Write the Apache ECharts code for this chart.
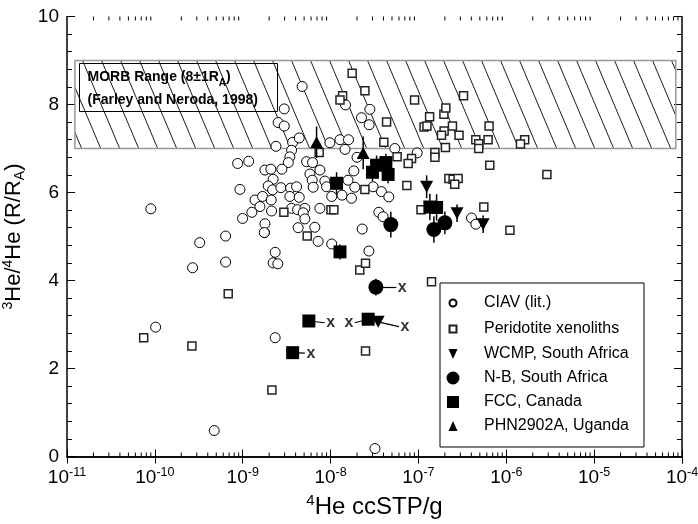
<!DOCTYPE html>
<html>
<head>
<meta charset="utf-8">
<title>3He/4He vs 4He</title>
<script src="https://cdn.jsdelivr.net/npm/echarts@6/dist/echarts.min.js"></script>
<style>
    html, body { margin: 0; padding: 0; background: #fff; }
    #chart { width: 698px; height: 524px; }
</style>
</head>
<body>
<div id="chart"></div>
<script>
// CIAV (lit.) : [4He ccSTP/g, 3He/4He (R/Ra)]
var ciav = [
    [9.0e-11, 5.63], [1.02e-10, 2.94], [2.69e-10, 4.29], [3.24e-10, 4.86], [6.39e-10, 5.01],
    [6.39e-10, 4.42], [4.74e-10, 0.59], [1.77e-9, 5.09], [2.34e-9, 4.64], [2.22e-9, 4.40],
    [2.51e-9, 4.38], [2.34e-9, 2.70], [7.22e-9, 4.89], [3.2e-8, 0.18], [2.97e-9, 7.90],
    [2.53e-9, 7.59], [2.97e-9, 7.51], [3.70e-9, 7.14], [2.39e-9, 7.05], [3.60e-9, 6.96],
    [3.44e-9, 6.81], [3.30e-9, 6.68], [8.75e-10, 6.66], [1.17e-9, 6.71], [1.79e-9, 6.51],
    [2.09e-9, 6.53], [2.79e-9, 6.53], [2.22e-9, 6.30], [9.3e-10, 6.07], [1.95e-9, 6.15],
    [2.19e-9, 6.06], [2.72e-9, 6.11], [3.51e-9, 6.10], [4.10e-9, 6.13], [1.38e-9, 5.83],
    [1.68e-9, 5.91], [2.11e-9, 5.83], [1.57e-9, 5.68], [1.27e-9, 5.55], [2.13e-9, 5.58],
    [3.44e-9, 5.91], [3.60e-9, 5.64], [4.21e-9, 5.61], [9.96e-10, 5.41], [1.79e-9, 5.29],
    [1.76e-9, 5.09], [4.28e-9, 5.20], [4.40e-9, 7.24], [9.82e-9, 7.13], [1.28e-8, 7.20],
    [1.60e-8, 7.20], [1.46e-8, 6.98], [5.33e-9, 6.70], [6.24e-9, 6.68], [5.82e-9, 6.42],
    [7.56e-9, 6.51], [6.18e-9, 6.28], [8.61e-9, 6.26], [6.34e-9, 6.12], [9.0e-9, 6.13],
    [1.58e-8, 6.28], [1.84e-8, 6.49], [1.89e-8, 6.12], [1.35e-8, 5.94], [1.03e-8, 5.91],
    [4.40e-9, 5.89], [5.10e-9, 5.64], [7.56e-9, 5.64], [4.88e-9, 5.54], [5.10e-9, 5.40],
    [6.62e-9, 5.21], [1.03e-8, 4.83], [4.75e-9, 8.41], [1.48e-8, 7.99], [2.80e-8, 7.89],
    [2.25e-8, 7.70], [2.75e-8, 7.54], [5.39e-8, 7.00], [9.67e-8, 6.90], [4.02e-7, 5.42],
    [4.50e-7, 5.28], [2.29e-8, 5.17], [3.54e-8, 5.55], [3.96e-8, 5.45], [2.73e-8, 4.67],
    [2.0e-8, 6.80], [3.05e-8, 6.13], [3.79e-8, 6.02], [4.6e-8, 5.90], [1.73e-8, 5.87]
];

// Peridotite xenoliths
var peridotite = [
    [7.46e-11, 2.70], [2.64e-10, 2.51], [6.84e-10, 3.70], [2.15e-9, 1.51], [5.42e-9, 5.01],
    [2.94e-9, 5.55], [7.42e-9, 6.91], [2.46e-8, 6.07], [1.01e-8, 5.61], [1.09e-8, 5.61],
    [2.15e-8, 4.24], [2.50e-8, 4.39], [1.41e-7, 3.97], [2.50e-8, 2.40], [1.76e-8, 8.71],
    [1.37e-8, 8.20], [1.28e-8, 8.10], [2.46e-8, 8.31], [4.34e-8, 7.60], [9.04e-8, 8.10],
    [3.26e-7, 8.20], [1.34e-7, 7.72], [1.95e-7, 7.78], [2.05e-7, 7.92], [1.16e-7, 7.49],
    [1.25e-7, 7.51], [1.96e-7, 7.40], [1.83e-7, 7.30], [2.44e-7, 7.51], [2.90e-7, 7.30],
    [6.37e-7, 7.51], [6.21e-7, 7.20], [4.50e-7, 7.20], [4.86e-7, 7.11], [4.86e-7, 7.00],
    [1.62e-6, 7.20], [1.45e-6, 7.10], [4.04e-8, 7.14], [5.72e-8, 6.81], [8.35e-8, 6.77],
    [7.64e-8, 6.66], [1.54e-7, 6.91], [1.54e-7, 6.80], [2.03e-7, 7.02], [6.49e-7, 6.62],
    [2.22e-7, 6.32], [2.48e-7, 6.30], [2.83e-7, 6.32], [2.59e-7, 6.19], [7.38e-8, 6.16],
    [5.55e-7, 5.67], [1.10e-6, 5.14], [1.07e-7, 5.61], [2.90e-6, 6.41]
];

// this study: [4He, R/Ra, error]
var wcmp = [[1.24e-7, 6.13, 0.26], [2.75e-7, 5.53, 0.2], [5.45e-7, 5.28, 0.2], [3.48e-8, 3.06, 0]];
var nb = [[4.85e-8, 5.27, 0.29], [1.50e-7, 5.16, 0.3], [2.0e-7, 5.31, 0.26], [3.28e-8, 3.85, 0.19]];
var fcc = [
    [1.17e-8, 6.21, 0.25], [3.34e-8, 6.62, 0.22], [4.26e-8, 6.68, 0.2], [3.0e-8, 6.46, 0.2],
    [4.52e-8, 6.41, 0.2], [1.35e-7, 5.67, 0.3], [1.61e-7, 5.66, 0.3], [1.28e-8, 4.65, 0.17],
    [5.66e-9, 3.08, 0], [3.70e-9, 2.36, 0], [2.68e-8, 3.12, 0]
];
var phn = [[6.93e-9, 7.14, 0.36], [2.35e-8, 6.90, 0.37]];

// "x" connectors: [fromX, fromY, toX, toY]
var linksRight = [
    [3.28e-8, 3.85, 5.6e-8, 3.85], [5.66e-9, 3.08, 8.6e-9, 3.04],
    [3.70e-9, 2.36, 5.1e-9, 2.35], [3.48e-8, 3.06, 6.0e-8, 2.95]
];
var linksLeft = [[2.68e-8, 3.12, 1.89e-8, 3.04]];

// MORB range band
var morbX = [1.23e-11, 8.5e-5];
var morbY = [7, 9];

var xMin = 1e-11, xMax = 1e-4, yMin = 0, yMax = 10;
var decades = [-11, -10, -9, -8, -7, -6, -5];
var minorSteps = [2, 3, 4, 5, 6, 7, 8, 9];

var minorTicks = [];
decades.forEach(function (d) {
    minorSteps.forEach(function (m) {
        minorTicks.push([m * Math.pow(10, d), yMin]);
    });
});

var font = 'Liberation Sans, Arial, Helvetica, sans-serif';

function hatch() {
    var c = document.createElement('canvas');
    c.width = 19;
    c.height = 45;
    var ctx = c.getContext('2d');
    ctx.strokeStyle = '#000';
    ctx.lineWidth = 0.9;
    [-19, 0, 19].forEach(function (o) {
        ctx.beginPath();
        ctx.moveTo(o, 0);
        ctx.lineTo(o + 19, 45);
        ctx.stroke();
    });
    return c;
}

function errorBars(rows) {
    return {
        type: 'custom',
        silent: true,
        z: 3,
        data: rows.filter(function (r) { return r[2] > 0; })
            .map(function (r) { return [r[0], r[1] - r[2], r[1] + r[2]]; }),
        renderItem: function (params, api) {
            var lo = api.coord([api.value(0), api.value(1)]);
            var hi = api.coord([api.value(0), api.value(2)]);
            return {
                type: 'line',
                shape: { x1: lo[0], y1: lo[1], x2: hi[0], y2: hi[1] },
                style: { stroke: '#000', lineWidth: 1.5 }
            };
        }
    };
}

function connectors(links) {
    return {
        type: 'lines',
        coordinateSystem: 'cartesian2d',
        silent: true,
        z: 3,
        data: links.map(function (l) { return { coords: [[l[0], l[1]], [l[2], l[3]]] }; }),
        lineStyle: { color: '#000', width: 1.2, opacity: 1 }
    };
}

function xMarks(links, side) {
    return {
        type: 'scatter',
        silent: true,
        z: 6,
        data: links.map(function (l) { return [l[2], l[3]]; }),
        symbolSize: 1,
        itemStyle: { color: 'rgba(0,0,0,0)' },
        label: {
            show: true, position: side, distance: 1, formatter: 'x',
            fontSize: 16, fontWeight: 'bold', color: '#000', fontFamily: font
        }
    };
}

function pts(rows) {
    return rows.map(function (r) { return [r[0], r[1]]; });
}

var supRich = {
    sup: { fontSize: 12.5, lineHeight: 12, verticalAlign: 'top', fontFamily: font, color: '#000' }
};

var option = {
    animation: false,
    textStyle: { fontFamily: font, color: '#000' },
    grid: { left: 67, right: 16, top: 16.5, bottom: 67.5, outerBoundsMode: 'none' },
    legend: {
        data: [
            { name: 'CIAV (lit.)', icon: 'path://M0 0M16 16M11.5 8A3.5 3.5 0 1 1 4.5 8A3.5 3.5 0 1 1 11.5 8Z' },
            { name: 'Peridotite xenoliths', icon: 'path://M0 0M16 16M4.5 4.5L11.5 4.5L11.5 11.5L4.5 11.5Z' },
            { name: 'WCMP, South Africa', icon: 'path://M0 0M16 16M3.5 3L12.5 3L8 13Z' },
            { name: 'N-B, South Africa', icon: 'path://M0 0M16 16M14.5 8A6.5 6.5 0 1 1 1.5 8A6.5 6.5 0 1 1 14.5 8Z' },
            { name: 'FCC, Canada', icon: 'path://M0 0M16 16M2 2L14 2L14 14L2 14Z' },
            { name: 'PHN2902A, Uganda', icon: 'path://M0 0M16 16M8 3L12.5 13L3.5 13Z' }
        ],
        orient: 'vertical',
        left: 440,
        top: 283,
        itemWidth: 52,
        itemHeight: 16,
        itemGap: 8,
        padding: [11, 15, 13, 4],
        borderColor: '#000',
        borderWidth: 1,
        borderRadius: 0,
        backgroundColor: '#fff',
        selectedMode: false,
        textStyle: { fontSize: 16, color: '#000', fontFamily: font }
    },
    xAxis: [
        {
            type: 'log', logBase: 10, min: xMin, max: xMax, position: 'bottom',
            axisLine: { lineStyle: { color: '#000', width: 1.5 } },
            axisTick: { inside: true, length: 7, lineStyle: { color: '#000', width: 1 } },
            splitLine: { show: false },
            axisLabel: {
                margin: 10, fontSize: 19, lineHeight: 22, color: '#000',
                formatter: function (v) {
                    return '10{sup|' + Math.round(Math.log10(v)) + '}';
                },
                rich: supRich
            },
            name: '{sup|4}He ccSTP/g',
            nameLocation: 'middle',
            nameGap: 35,
            nameTextStyle: {
                fontSize: 24, lineHeight: 28, color: '#000',
                rich: { sup: { fontSize: 15, lineHeight: 15, verticalAlign: 'top', fontFamily: font } }
            }
        },
        {
            type: 'log', logBase: 10, min: xMin, max: xMax, position: 'top',
            axisLine: { lineStyle: { color: '#000', width: 1.5 } },
            axisTick: { inside: true, length: 7, lineStyle: { color: '#000', width: 1 } },
            axisLabel: { show: false },
            splitLine: { show: false }
        }
    ],
    yAxis: [
        {
            type: 'value', min: yMin, max: yMax, interval: 2, position: 'left',
            axisLine: { lineStyle: { color: '#000', width: 1.5 } },
            axisTick: { inside: true, length: 8, lineStyle: { color: '#000', width: 1 } },
            minorTick: { show: true, splitNumber: 5, length: 5, lineStyle: { color: '#000', width: 1 } },
            splitLine: { show: false },
            axisLabel: { fontSize: 19, margin: 8, color: '#000' },
            name: '{sup|3}He/{sup|4}He (R/R{sub|A})',
            nameLocation: 'middle',
            nameRotate: 90,
            nameGap: 33,
            nameTextStyle: {
                fontSize: 22, lineHeight: 26, color: '#000',
                rich: {
                    sup: { fontSize: 14, lineHeight: 14, verticalAlign: 'top', fontFamily: font },
                    sub: { fontSize: 14, lineHeight: 18, verticalAlign: 'bottom', fontFamily: font }
                }
            }
        },
        {
            type: 'value', min: yMin, max: yMax, interval: 2, position: 'right',
            axisLine: { lineStyle: { color: '#000', width: 1.5 } },
            axisTick: { inside: true, length: 8, lineStyle: { color: '#000', width: 1 } },
            minorTick: { show: true, splitNumber: 5, length: 5, lineStyle: { color: '#000', width: 1 } },
            splitLine: { show: false },
            axisLabel: { show: false }
        }
    ],
    graphic: [{
        type: 'group',
        left: 79,
        top: 63,
        z: 20,
        children: [
            {
                type: 'rect',
                shape: { x: 0, y: 0, width: 198, height: 48 },
                style: { fill: '#fff', stroke: '#000', lineWidth: 1 }
            },
            {
                type: 'text',
                x: 8,
                y: 2,
                style: {
                    text: 'MORB Range (8±1R{sub|A})\n(Farley and Neroda, 1998)',
                    fontSize: 14, fontWeight: 'bold', fontFamily: font, lineHeight: 23, fill: '#000',
                    rich: { sub: { fontSize: 10, lineHeight: 14, verticalAlign: 'bottom', fontWeight: 'bold', fontFamily: font } }
                }
            }
        ]
    }],
    series: [
        {
            name: 'MORB',
            type: 'scatter',
            data: [],
            z: 1,
            markArea: {
                silent: true,
                itemStyle: {
                    color: { image: hatch(), repeat: 'repeat' },
                    opacity: 1,
                    borderColor: '#999',
                    borderWidth: 1.5
                },
                data: [[{ coord: [morbX[0], morbY[1]] }, { coord: [morbX[1], morbY[0]] }]]
            }
        },
        {
            type: 'custom',
            silent: true,
            z: 10,
            data: minorTicks,
            renderItem: function (params, api) {
                var b = api.coord([api.value(0), yMin]);
                var t = api.coord([api.value(0), yMax]);
                return {
                    type: 'group',
                    children: [
                        { type: 'line', shape: { x1: b[0], y1: b[1], x2: b[0], y2: b[1] - 4 }, style: { stroke: '#000', lineWidth: 1 } },
                        { type: 'line', shape: { x1: t[0], y1: t[1], x2: t[0], y2: t[1] + 4 }, style: { stroke: '#000', lineWidth: 1 } }
                    ]
                };
            }
        },
        {
            name: 'CIAV (lit.)',
            type: 'scatter',
            z: 2,
            data: ciav,
            symbol: 'circle',
            symbolSize: 10,
            itemStyle: { color: '#fff', borderColor: '#000', borderWidth: 1, opacity: 1 }
        },
        {
            name: 'Peridotite xenoliths',
            type: 'scatter',
            z: 2,
            data: peridotite,
            symbol: 'rect',
            symbolSize: 8,
            itemStyle: { color: '#fff', borderColor: '#222', borderWidth: 1.5, opacity: 1 }
        },
        errorBars(wcmp),
        errorBars(nb),
        errorBars(fcc),
        errorBars(phn),
        connectors(linksRight),
        connectors(linksLeft),
        {
            name: 'WCMP, South Africa',
            type: 'scatter',
            z: 4,
            data: pts(wcmp),
            symbol: 'triangle',
            symbolRotate: 180,
            symbolSize: [13, 12],
            itemStyle: { color: '#000', opacity: 1 }
        },
        {
            name: 'N-B, South Africa',
            type: 'scatter',
            z: 4,
            data: pts(nb),
            symbol: 'circle',
            symbolSize: 15,
            itemStyle: { color: '#000', opacity: 1 }
        },
        {
            name: 'FCC, Canada',
            type: 'scatter',
            z: 4,
            data: pts(fcc),
            symbol: 'rect',
            symbolSize: 13,
            itemStyle: { color: '#000', opacity: 1 }
        },
        {
            name: 'PHN2902A, Uganda',
            type: 'scatter',
            z: 4,
            data: pts(phn),
            symbol: 'triangle',
            symbolSize: [13, 12],
            itemStyle: { color: '#000', opacity: 1 }
        },
        xMarks(linksRight, 'right'),
        xMarks(linksLeft, 'left')
    ]
};

var chart = echarts.init(document.getElementById('chart'));
chart.setOption(option);
</script>
</body>
</html>
